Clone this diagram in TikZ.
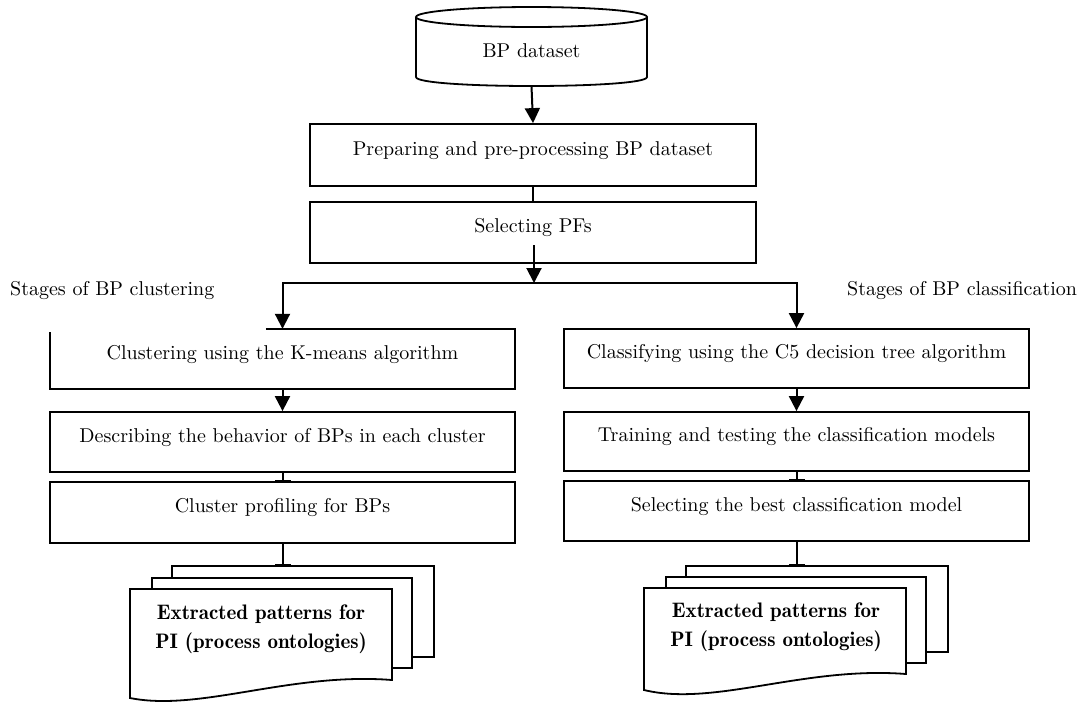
\documentclass[tikz,border=0pt]{standalone}
\usepackage{fontspec}
\setmainfont{lmroman10-regular.otf}[BoldFont=lmromandemi10-regular.otf]
\usetikzlibrary{arrows.meta,calc}
\begin{document}
\begin{tikzpicture}[x=1pt,y=-1pt,
  every node/.style={font=\fontsize{20}{29}\selectfont},
  boxline/.style={line width=1.8pt},
  boxsize/.style={minimum height=60pt, minimum width=465pt, inner sep=0pt, text height=10pt, text depth=10pt},
  procbox/.style={boxsize, draw, boxline},
  arr/.style={line width=2pt, -{Triangle[width=15pt,length=15pt]}},
  tee/.style={line width=2pt, -{Bar[width=16pt,line width=1.6pt]}},
  plain/.style={line width=2pt},
  sheet/.style={draw, boxline, fill=white},
  doctext/.style={align=center, font=\bfseries\fontsize{21}{29}\selectfont}
]
\useasboundingbox (0,0) rectangle (1079,702);

% database cylinder
\draw[boxline] (416,17) -- (416,77) .. controls (416,89) and (647,89) .. (647,77) -- (647,17);
\draw[boxline] (531.5,17) ellipse [x radius=115.5, y radius=10];
\node[anchor=base] (db) at (531.5,57) {BP dataset};
\coordinate (dbbot) at (531.5,86);

% top boxes
\node[procbox, minimum width=446pt, minimum height=62pt] (prep) at (533,155) {Preparing and pre-processing BP dataset};
\node[procbox, minimum width=446pt, minimum height=61pt] (sel) at (533,232.5) {Selecting PFs};
\coordinate (selout) at (534,245);
\coordinate (split) at (534,283);

% labels
\node[anchor=base west, inner sep=0pt] (lblL) at (10,295) {Stages of BP clustering};
\node[anchor=base west, inner sep=0pt] (lblR) at (847,295) {Stages of BP classification};

% left column
\node[boxsize] (clus) at (282.5,359) {Clustering using the K-means algorithm};
\draw[boxline] ($(clus.north west)+(216,0)$) -- (clus.north east) -- (clus.south east) -- (clus.south west) -- ($(clus.north west)+(0,3)$);
\node[procbox] (desc) at (282.5,442) {Describing the behavior of BPs in each cluster};
\node[procbox, minimum height=61pt] (prof) at (282.5,512.5) {Cluster profiling for BPs};

% right column
\node[procbox, minimum height=59pt] (class) at (796.5,358.5) {Classifying using the C5 decision tree algorithm};
\node[procbox, minimum height=59pt] (train) at (796.5,441.5) {Training and testing the classification models};
\node[procbox] (best) at (796.5,511) {Selecting the best classification model};

% left document stack
\draw[sheet] (172,566) rectangle (434,657);
\draw[sheet] (152,578) rectangle (412,668);
\draw[sheet] (130,589) -- (392,589) -- (392,680) .. controls (290,672) and (200,712) .. (130,698) -- cycle;
\node[doctext] (docL) at (261,629) {Extracted patterns for\\PI (process ontologies)};
\coordinate (docLin) at (282.5,566);

% right document stack
\draw[sheet] (686,566) rectangle (948,652);
\draw[sheet] (666,577) rectangle (926,663);
\draw[sheet] (644,588) -- (906,588) -- (906,674) .. controls (804,666) and (714,707) .. (644,690) -- cycle;
\node[doctext] (docR) at (776,627) {Extracted patterns for\\PI (process ontologies)};
\coordinate (docRin) at (796.5,566);

% connectors
\draw[arr] (dbbot) -- (prep.north);
\draw[plain] (prep.south) -- (sel.north);
\draw[arr] (selout) -- (split);
\draw[arr] (split) -| (clus.north);
\draw[arr] (split) -| (class.north);
\draw[arr] (clus.south) -- (desc.north);
\draw[tee] (desc.south) -- (prof.north);
\draw[tee] (prof.south) -- (docLin);
\draw[arr] (class.south) -- (train.north);
\draw[tee] (train.south) -- (best.north);
\draw[tee] (best.south) -- (docRin);
\end{tikzpicture}
\end{document}
